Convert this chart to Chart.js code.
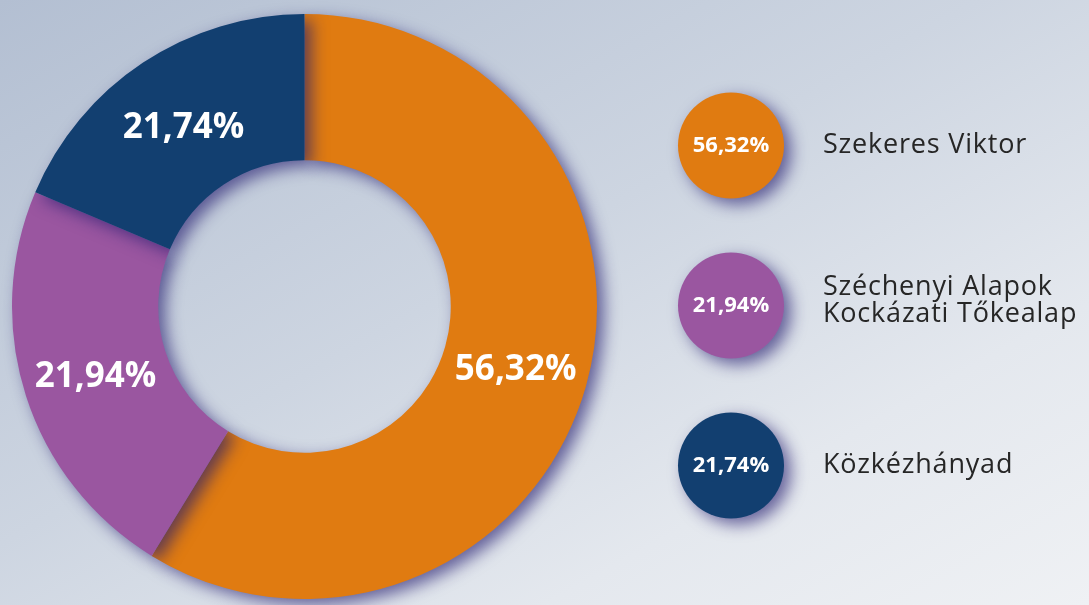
<!DOCTYPE html>
<html>
<head>
<meta charset="utf-8">
<script src="https://cdn.jsdelivr.net/npm/chart.js@4.4.0/dist/chart.umd.min.js"></script>
<style>
  html, body { margin: 0; padding: 0; }
  body {
    width: 1089px; height: 605px; overflow: hidden;
    background: linear-gradient(to bottom right, #b3bfd2 0%, #cdd5e1 45%, #e4e8ee 75%, #eff1f4 100%);
  }
  .container { position: relative; width: 1089px; height: 605px; }
</style>
</head>
<body>
<div class="container">
  <canvas id="ownersChart"></canvas>
</div>
<script>
const owners = ['Szekeres Viktor', ['Széchenyi Alapok', 'Kockázati Tőkealap'], 'Közkézhányad'];
// printed percentages
const shares = [56.32, 21.94, 21.74];
// slice sizes as drawn in the original graphic (not exactly proportional to the printed numbers)
const sliceSizes = [58.75, 22.64, 18.61];
const colors = ['#e07b11', '#9a56a0', '#123f70'];

const fmt = v => v.toFixed(2).replace('.', ',') + '%';

const setShadow = (ctx) => {
  ctx.shadowColor = 'rgba(35, 28, 110, 0.65)';
  ctx.shadowBlur = 16;
  ctx.shadowOffsetX = 7;
  ctx.shadowOffsetY = 6;
};

const shadowPlugin = {
  id: 'shadow',
  beforeDatasetsDraw(chart) {
    chart.ctx.save();
    setShadow(chart.ctx);
  },
  afterDatasetsDraw(chart) {
    chart.ctx.restore();
  }
};

const labelsPlugin = {
  id: 'sliceLabels',
  afterDatasetsDraw(chart) {
    const ctx = chart.ctx;
    const meta = chart.getDatasetMeta(0);
    ctx.save();
    ctx.fillStyle = '#ffffff';
    ctx.font = 'bold 35px "Open Sans"';
    ctx.textAlign = 'center';
    ctx.textBaseline = 'middle';
    meta.data.forEach((arc, i) => {
      const p = arc.tooltipPosition();
      ctx.fillText(fmt(shares[i]), p.x, p.y + 4);
    });
    ctx.restore();
  }
};

const legendPlugin = {
  id: 'bubbleLegend',
  afterDraw(chart) {
    const ctx = chart.ctx;
    const area = chart.chartArea;
    const midY = (area.top + area.bottom) / 2;
    const cx = 731, r = 53, step = 160;
    owners.forEach((name, i) => {
      const cy = midY + (i - 1) * step - 1;
      ctx.save();
      setShadow(ctx);
      ctx.fillStyle = colors[i];
      ctx.beginPath();
      ctx.arc(cx, cy, r, 0, Math.PI * 2);
      ctx.fill();
      ctx.restore();

      ctx.save();
      ctx.fillStyle = '#ffffff';
      ctx.font = 'bold 22px "Open Sans"';
      ctx.textAlign = 'center';
      ctx.textBaseline = 'middle';
      ctx.fillText(fmt(shares[i]), cx, cy);

      ctx.fillStyle = '#262626';
      ctx.font = '500 27px "Open Sans"';
      ctx.letterSpacing = '0.8px';
      ctx.textAlign = 'left';
      const lines = Array.isArray(name) ? name : [name];
      const lh = 27;
      lines.forEach((line, j) => {
        ctx.fillText(line, 823, cy + (j - (lines.length - 1) / 2) * lh - (lines.length > 1 ? 5 : 0));
      });
      ctx.restore();
    });
  }
};

new Chart(document.getElementById('ownersChart'), {
  type: 'doughnut',
  data: {
    labels: owners,
    datasets: [{
      data: sliceSizes,
      backgroundColor: colors,
      borderWidth: 0
    }]
  },
  options: {
    responsive: true,
    maintainAspectRatio: false,
    animation: false,
    cutout: '50%',
    layout: { padding: { left: 12, top: 14, right: 492, bottom: 6 } },
    plugins: {
      legend: { display: false },
      tooltip: { enabled: false }
    }
  },
  plugins: [shadowPlugin, labelsPlugin, legendPlugin]
});
</script>
</body>
</html>
